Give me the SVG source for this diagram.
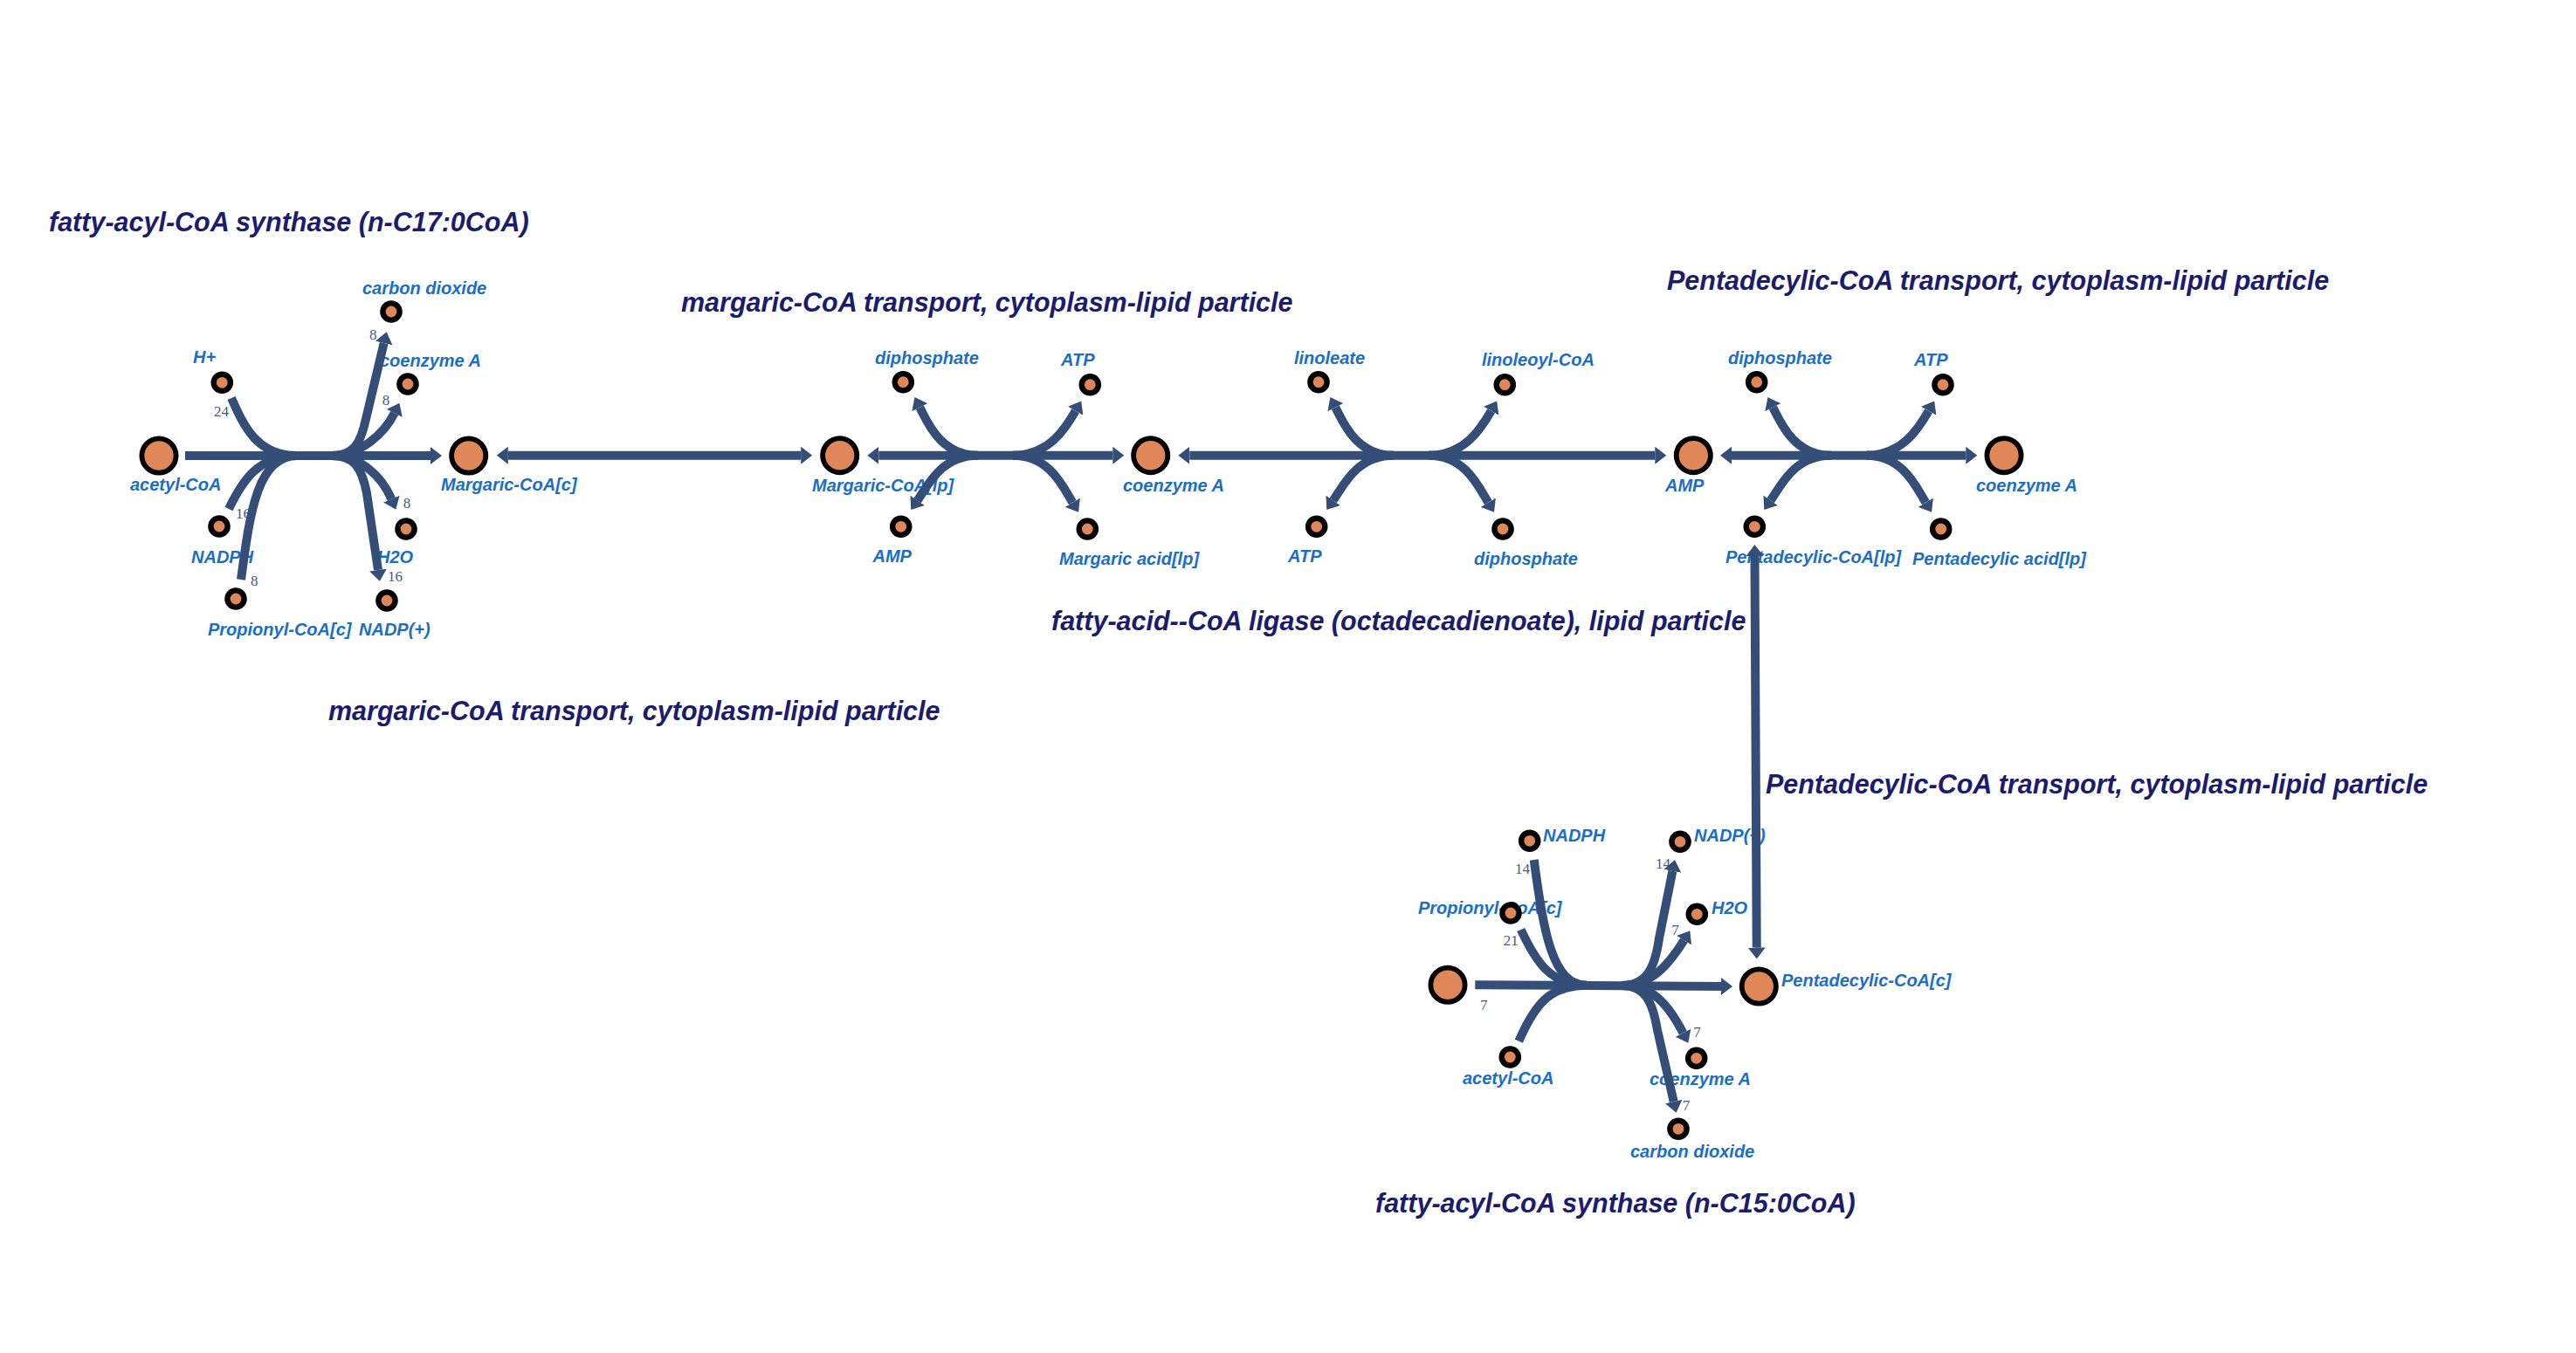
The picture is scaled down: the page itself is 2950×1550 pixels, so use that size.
<svg xmlns="http://www.w3.org/2000/svg" width="2950" height="1550" viewBox="0 0 2950 1550">
<style>
.title{font-family:"Liberation Sans",Arial,sans-serif;font-weight:bold;font-style:italic;font-size:30.5px;fill:#1c1c6e}
.lbl{font-family:"Liberation Sans",Arial,sans-serif;font-weight:bold;font-style:italic;font-size:20px;fill:#1a6ec8}
.st{font-family:"Liberation Serif","Times New Roman",serif;font-size:17px;fill:#46597f}
.e{fill:none;stroke:#344e77;stroke-width:10;stroke-linecap:butt}
.a{marker-end:url(#ah)}
.b{marker-start:url(#ah);marker-end:url(#ah)}
.big{fill:#e0875a;stroke:#000;stroke-width:5.8}
.sm{fill:#e0875a;stroke:#000;stroke-width:6.4}
</style>
<defs>
<marker id="ah" viewBox="0 0 13 20" refX="0" refY="10" markerWidth="13" markerHeight="20" markerUnits="userSpaceOnUse" orient="auto-start-reverse">
<path d="M0,0 L13,10 L0,20 z" fill="#344e77"/>
</marker>
</defs>
<rect width="2950" height="1550" fill="#fff"/>

<g id="reaction-titles">
<text class="title" x="56" y="265">fatty-acyl-CoA synthase (n-C17:0CoA)</text>
<text class="title" x="780" y="357">margaric-CoA transport, cytoplasm-lipid particle</text>
<text class="title" x="376" y="825">margaric-CoA transport, cytoplasm-lipid particle</text>
<text class="title" x="1204" y="722">fatty-acid--CoA ligase (octadecadienoate), lipid particle</text>
<text class="title" x="1909" y="332">Pentadecylic-CoA transport, cytoplasm-lipid particle</text>
<text class="title" x="2022" y="909">Pentadecylic-CoA transport, cytoplasm-lipid particle</text>
<text class="title" x="1575" y="1389">fatty-acyl-CoA synthase (n-C15:0CoA)</text>
</g>

<g id="stoichiometry">
<text class="st" x="423" y="388.6">8</text>
<text class="st" x="245" y="476.7">24</text>
<text class="st" x="437.7" y="464">8</text>
<text class="st" x="270" y="594">16</text>
<text class="st" x="461.7" y="581.7">8</text>
<text class="st" x="287" y="671">8</text>
<text class="st" x="444" y="666">16</text>
<text class="st" x="1735" y="1000.7">14</text>
<text class="st" x="1721.7" y="1083.3">21</text>
<text class="st" x="1695" y="1156.7">7</text>
<text class="st" x="1896" y="995">14</text>
<text class="st" x="1914.3" y="1070.7">7</text>
<text class="st" x="1939.3" y="1188.3">7</text>
<text class="st" x="1926.7" y="1271.7">7</text>
</g>

<!-- Reaction 1 nodes -->
<g id="n-acetylcoa-c17"><text class="lbl" x="149" y="561.7">acetyl-CoA</text><circle class="big" cx="182" cy="522" r="19.6"/></g>
<g id="n-margaricCoA-c"><text class="lbl" x="505" y="562">Margaric-CoA[c]</text><circle class="big" cx="536.7" cy="522" r="19.6"/></g>
<g id="n-hplus"><text class="lbl" x="221" y="416">H+</text><circle class="sm" cx="254.3" cy="438.3" r="9.6"/></g>
<g id="n-co2-c17"><text class="lbl" x="415" y="337">carbon dioxide</text><circle class="sm" cx="448" cy="357" r="9.6"/></g>
<g id="n-coa-c17"><text class="lbl" x="435" y="420">coenzyme A</text><circle class="sm" cx="467" cy="440" r="9.6"/></g>
<g id="n-nadph-c17"><text class="lbl" x="219" y="645">NADPH</text><circle class="sm" cx="251" cy="603" r="9.6"/></g>
<g id="n-h2o-c17"><text class="lbl" x="432" y="645">H2O</text><circle class="sm" cx="465" cy="606" r="9.6"/></g>
<g id="n-propionyl-c17"><text class="lbl" x="238" y="728">Propionyl-CoA[c]</text><circle class="sm" cx="270" cy="686" r="9.6"/></g>
<g id="n-nadp-c17"><text class="lbl" x="411" y="728">NADP(+)</text><circle class="sm" cx="443" cy="688" r="9.6"/></g>

<!-- Reaction 3 nodes -->
<g id="n-margaricCoA-lp"><text class="lbl" x="930" y="563">Margaric-CoA[lp]</text><circle class="big" cx="961.7" cy="521.7" r="19.6"/></g>
<g id="n-coa-1"><text class="lbl" x="1286" y="563">coenzyme A</text><circle class="big" cx="1317.7" cy="521.7" r="19.6"/></g>
<g id="n-ppi-1"><text class="lbl" x="1002" y="417">diphosphate</text><circle class="sm" cx="1034.3" cy="437.7" r="9.6"/></g>
<g id="n-atp-1"><text class="lbl" x="1215" y="418.5">ATP</text><circle class="sm" cx="1248.3" cy="440.7" r="9.6"/></g>
<g id="n-amp-1"><text class="lbl" x="999.5" y="644">AMP</text><circle class="sm" cx="1031.7" cy="603.3" r="9.6"/></g>
<g id="n-margaricacid-lp"><text class="lbl" x="1213" y="647">Margaric acid[lp]</text><circle class="sm" cx="1245.3" cy="606" r="9.6"/></g>

<!-- Reaction 4 nodes -->
<g id="n-linoleate"><text class="lbl" x="1482" y="417">linoleate</text><circle class="sm" cx="1510" cy="437.7" r="9.6"/></g>
<g id="n-linoleoylcoa"><text class="lbl" x="1697" y="419">linoleoyl-CoA</text><circle class="sm" cx="1723.3" cy="440.7" r="9.6"/></g>
<g id="n-atp-2"><text class="lbl" x="1475" y="644">ATP</text><circle class="sm" cx="1507.7" cy="603.3" r="9.6"/></g>
<g id="n-ppi-2"><text class="lbl" x="1688" y="647">diphosphate</text><circle class="sm" cx="1721" cy="606" r="9.6"/></g>
<g id="n-amp-big"><text class="lbl" x="1907" y="563">AMP</text><circle class="big" cx="1939.3" cy="521.7" r="19.6"/></g>

<!-- Reaction 5 nodes -->
<g id="n-ppi-3"><text class="lbl" x="1979" y="417">diphosphate</text><circle class="sm" cx="2011.7" cy="437.7" r="9.6"/></g>
<g id="n-atp-3"><text class="lbl" x="2192" y="419">ATP</text><circle class="sm" cx="2225" cy="440.7" r="9.6"/></g>
<g id="n-pentaCoA-lp"><text class="lbl" x="1976" y="645">Pentadecylic-CoA[lp]</text><circle class="sm" cx="2009.3" cy="603.3" r="9.6"/></g>
<g id="n-pentaacid-lp"><text class="lbl" x="2190" y="647">Pentadecylic acid[lp]</text><circle class="sm" cx="2222.7" cy="606" r="9.6"/></g>
<g id="n-coa-2"><text class="lbl" x="2263" y="563">coenzyme A</text><circle class="big" cx="2295" cy="521.7" r="19.6"/></g>

<!-- Reaction 6 nodes -->
<g id="n-acetylcoa-big-c15"><circle class="big" cx="1658" cy="1128.3" r="19.6"/></g>
<g id="n-pentaCoA-c"><text class="lbl" x="2040" y="1130">Pentadecylic-CoA[c]</text><circle class="big" cx="2014.3" cy="1130" r="19.6"/></g>
<g id="n-nadph-c15"><text class="lbl" x="1767" y="964">NADPH</text><circle class="sm" cx="1751.7" cy="963.3" r="9.6"/></g>
<g id="n-nadp-c15"><text class="lbl" x="1940" y="964">NADP(+)</text><circle class="sm" cx="1924" cy="964.3" r="9.6"/></g>
<g id="n-propionyl-c15"><text class="lbl" x="1624" y="1047">Propionyl-CoA[c]</text><circle class="sm" cx="1730" cy="1046" r="9.6"/></g>
<g id="n-h2o-c15"><text class="lbl" x="1960" y="1047">H2O</text><circle class="sm" cx="1943.3" cy="1047.3" r="9.6"/></g>
<g id="n-acetylcoa-c15"><text class="lbl" x="1675" y="1242">acetyl-CoA</text><circle class="sm" cx="1729.3" cy="1211" r="9.6"/></g>
<g id="n-coa-c15"><text class="lbl" x="1889" y="1243">coenzyme A</text><circle class="sm" cx="1942.7" cy="1212.3" r="9.6"/></g>
<g id="n-co2-c15"><text class="lbl" x="1867" y="1326">carbon dioxide</text><circle class="sm" cx="1922" cy="1293.3" r="9.6"/></g>

<g id="connectors">
<!-- Reaction 1 -->
<path class="e a" d="M212,522 L493,522"/>
<path class="e" d="M265,456 C280,490 295,522 340,522"/>
<path class="e" d="M262,583 C277,552 295,522 340,522"/>
<path class="e" d="M276,664 C286,590 294,522 340,522"/>
<path class="e a" d="M380,522 C405,522 413,508 419,480 L439.7,393"/>
<path class="e a" d="M380,522 C412,522 440,497 451.7,473.3"/>
<path class="e a" d="M380,522 C412,522 437,545 448.3,571.7"/>
<path class="e a" d="M380,522 C405,522 414,535 420,565 L433,653"/>
<!-- Reaction 2 transport -->
<path class="e b" d="M581.8,521.7 L917.2,521.7"/>
<!-- Reaction 3 -->
<path class="e b" d="M1006.3,521.7 L1274.3,521.7"/>
<path class="e a" d="M1120,521.7 C1078,521.7 1063.2,486.3 1053.3,466.7"/>
<path class="e a" d="M1160,521.7 C1202,521.7 1220.7,489.7 1231.7,470.7"/>
<path class="e a" d="M1120,521.7 C1078,521.7 1063.2,555.3 1050.7,573.3"/>
<path class="e a" d="M1160,521.7 C1202,521.7 1216.9,557 1228.3,575.7"/>
<!-- Reaction 4 -->
<path class="e b" d="M1362.3,521.7 L1895.3,521.7"/>
<path class="e a" d="M1596,521.7 C1554,521.7 1539.2,486.3 1529.3,466.7"/>
<path class="e a" d="M1636,521.7 C1678,521.7 1696.7,489.7 1707.7,470.7"/>
<path class="e a" d="M1596,521.7 C1554,521.7 1539.2,555.3 1526.7,573.3"/>
<path class="e a" d="M1636,521.7 C1678,521.7 1692.9,557 1704.3,575.7"/>
<!-- Reaction 5 -->
<path class="e b" d="M1983,521.7 L2251.3,521.7"/>
<path class="e a" d="M2097,521.7 C2055,521.7 2040.2,486.3 2030.3,466.7"/>
<path class="e a" d="M2137,521.7 C2179,521.7 2197.7,489.7 2208.7,470.7"/>
<path class="e a" d="M2097,521.7 C2055,521.7 2040.2,555.3 2027.7,573.3"/>
<path class="e a" d="M2137,521.7 C2179,521.7 2193.9,557 2205.3,575.7"/>
<!-- Pentadecylic-CoA transport (vertical) -->
<path class="e b" d="M2009.5,637 L2011.7,1085.5"/>
<!-- Reaction 6 -->
<path class="e a" d="M1689.3,1128.3 L1971,1130"/>
<path class="e" d="M1756.7,985 C1768,1070 1778,1128.7 1817,1128.7"/>
<path class="e" d="M1741.7,1065 C1758,1100 1775,1128.7 1817,1128.7"/>
<path class="e" d="M1739.3,1192.7 C1758,1150 1775,1128.7 1817,1128.7"/>
<path class="e a" d="M1857,1129 C1885,1129 1895,1110 1900,1075 L1915.4,997.8"/>
<path class="e a" d="M1857,1129 C1885,1129 1905,1115 1928.5,1077.2"/>
<path class="e a" d="M1857,1129 C1885,1129 1905,1140 1927.4,1183.3"/>
<path class="e a" d="M1857,1129 C1885,1129 1893,1150 1898,1180 L1916.7,1262"/>
</g>
</svg>
